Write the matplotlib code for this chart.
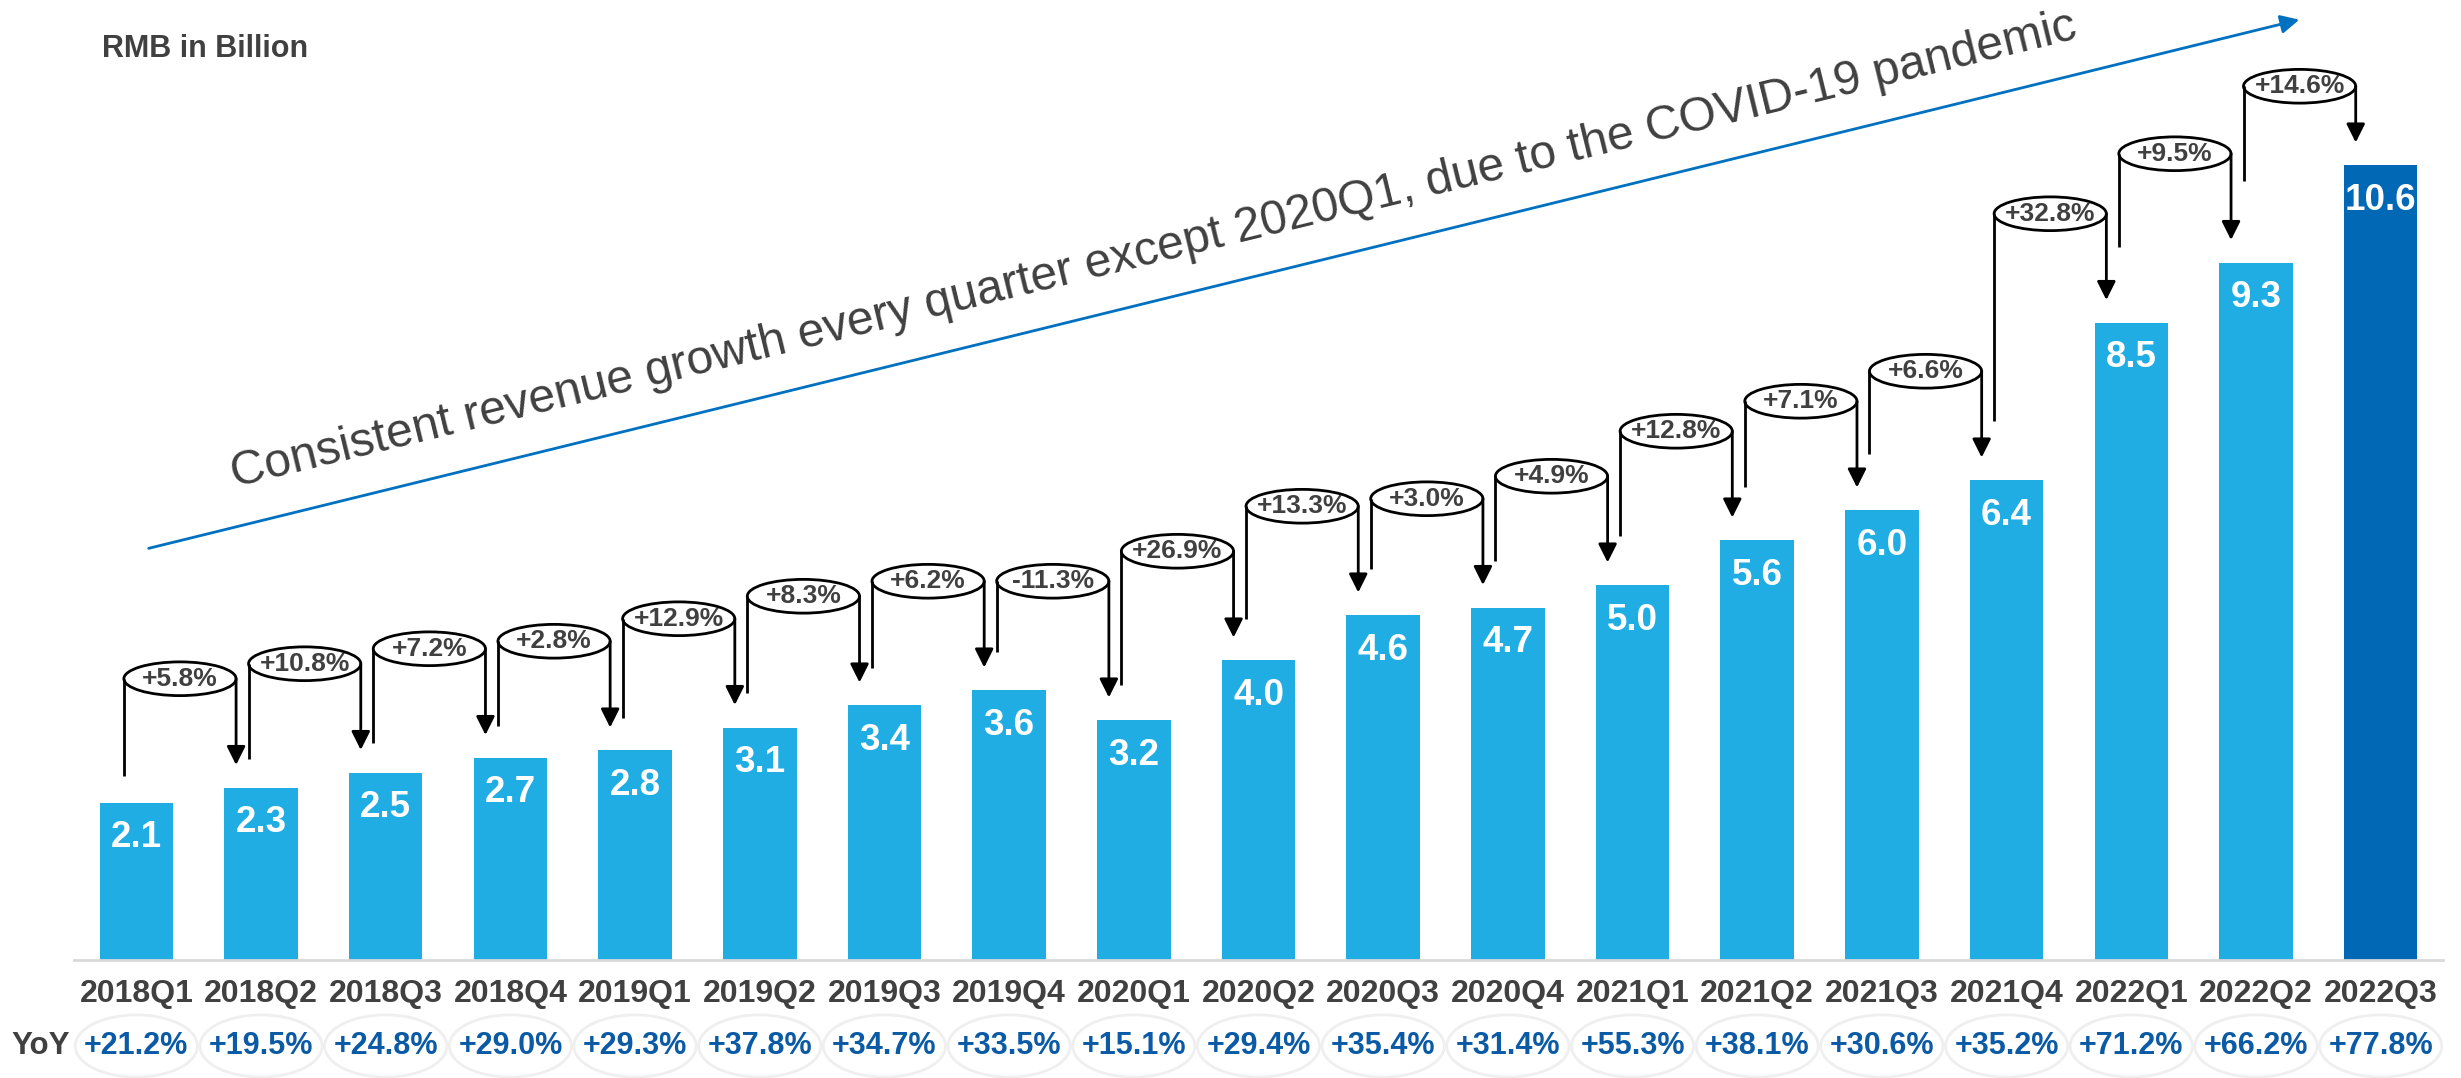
import matplotlib
matplotlib.use("Agg")
import matplotlib.pyplot as plt
from matplotlib.patches import Ellipse, FancyArrowPatch
import numpy as np

plt.rcParams['font.family'] = ['Liberation Sans', 'DejaVu Sans']

quarters = ["2018Q1", "2018Q2", "2018Q3", "2018Q4", "2019Q1", "2019Q2", "2019Q3", "2019Q4",
            "2020Q1", "2020Q2", "2020Q3", "2020Q4", "2021Q1", "2021Q2", "2021Q3", "2021Q4",
            "2022Q1", "2022Q2", "2022Q3"]
revenue = [2.1, 2.3, 2.5, 2.7, 2.8, 3.1, 3.4, 3.6, 3.2, 4.0, 4.6, 4.7, 5.0, 5.6, 6.0, 6.4, 8.5, 9.3, 10.6]
qoq = ["+5.8%", "+10.8%", "+7.2%", "+2.8%", "+12.9%", "+8.3%", "+6.2%", "-11.3%", "+26.9%",
       "+13.3%", "+3.0%", "+4.9%", "+12.8%", "+7.1%", "+6.6%", "+32.8%", "+9.5%", "+14.6%"]
yoy = ["+21.2%", "+19.5%", "+24.8%", "+29.0%", "+29.3%", "+37.8%", "+34.7%", "+33.5%", "+15.1%",
       "+29.4%", "+35.4%", "+31.4%", "+55.3%", "+38.1%", "+30.6%", "+35.2%", "+71.2%", "+66.2%", "+77.8%"]

W, H = 2461, 1078
fig = plt.figure(figsize=(W / 100, H / 100), dpi=100)
base_px = 960
left_px, right_px = 74, 2443
ax = fig.add_axes([left_px / W, (H - base_px) / H, (right_px - left_px) / W, base_px / H])
px_per_unit = 75.0
ax.set_xlim(-0.5, len(quarters) - 0.5)
ax.set_ylim(0, base_px / px_per_unit)
for s in ax.spines.values():
    s.set_visible(False)
ax.set_yticks([])
unit_x_px = (right_px - left_px) / len(quarters)

x = np.arange(len(quarters))
light = "#1FADE4"
dark = "#0068B5"
colors = [light] * (len(quarters) - 1) + [dark]
ax.bar(x, revenue, width=0.59, color=colors, zorder=2)
ax.axhline(0, color="#D9D9D9", lw=2, zorder=3, clip_on=False)

ax.set_xticks(x)
ax.set_xticklabels(quarters, fontsize=23, fontweight="bold", color="#404040")
ax.tick_params(axis="x", length=0, pad=14)

txtc = "#404040"
for xi, v in zip(x, revenue):
    ax.text(xi, v - 0.47, f"{v:.1f}", ha="center", va="center", color="white",
            fontsize=26.5, fontweight="bold", zorder=4)

# QoQ connectors
top_limit = 11.65
for i, lab in enumerate(qoq):
    x0 = i - 0.1
    x1 = i + 1 - 0.2
    yc = min(max(revenue[i], revenue[i + 1]) + 1.45, top_limit)
    ax.plot([x0, x0], [revenue[i] * 1.1 + 0.15, yc], color="black", lw=2, zorder=5,
            solid_capstyle="butt")
    ax.add_patch(Ellipse(((x0 + x1) / 2, yc), x1 - x0, 0.45, facecolor="none",
                         edgecolor="black", lw=2, zorder=5))
    ax.annotate("", xy=(x1, revenue[i + 1] + 0.3), xytext=(x1, yc),
                arrowprops=dict(arrowstyle="-|>", color="black", lw=2, mutation_scale=28,
                                shrinkA=0, shrinkB=0), zorder=5)
    ax.text((x0 + x1) / 2, yc, lab, ha="center", va="center", fontsize=19,
            fontweight="bold", color=txtc, zorder=6)

# YoY row
yoy_y = -86 / px_per_unit
ax.text(-0.5 + (70 - left_px) / unit_x_px, yoy_y, "YoY", ha="right", va="center",
        fontsize=22.5, fontweight="bold", color=txtc, clip_on=False)
for xi, lab in zip(x, yoy):
    ax.add_patch(Ellipse((xi, yoy_y), 0.98, 0.83, facecolor="none", edgecolor="#EFEFEF",
                         lw=2, clip_on=False))
    ax.text(xi, yoy_y, lab, ha="center", va="center", fontsize=22, fontweight="bold",
            color="#0B5AA6", clip_on=False)

# Trend arrow and caption
fig.add_artist(FancyArrowPatch(
    (146 / W, 1 - 549 / H), (2302 / W, 1 - 19 / H), transform=fig.transFigure,
    arrowstyle="-|>", mutation_scale=28, color="#0070C0", lw=2))
ang = np.degrees(np.arctan2(450, 1848))
fig.text(235 / W, 1 - 487 / H,
         "Consistent revenue growth every quarter except 2020Q1, due to the COVID-19 pandemic",
         rotation=ang, rotation_mode="anchor", ha="left", va="baseline", fontsize=34.5,
         color="#404040")

fig.text(102 / W, 1 - 49 / H, "RMB in Billion", ha="left", va="center", fontsize=22,
         fontweight="bold", color=txtc)

fig.savefig("out.png", dpi=100)
